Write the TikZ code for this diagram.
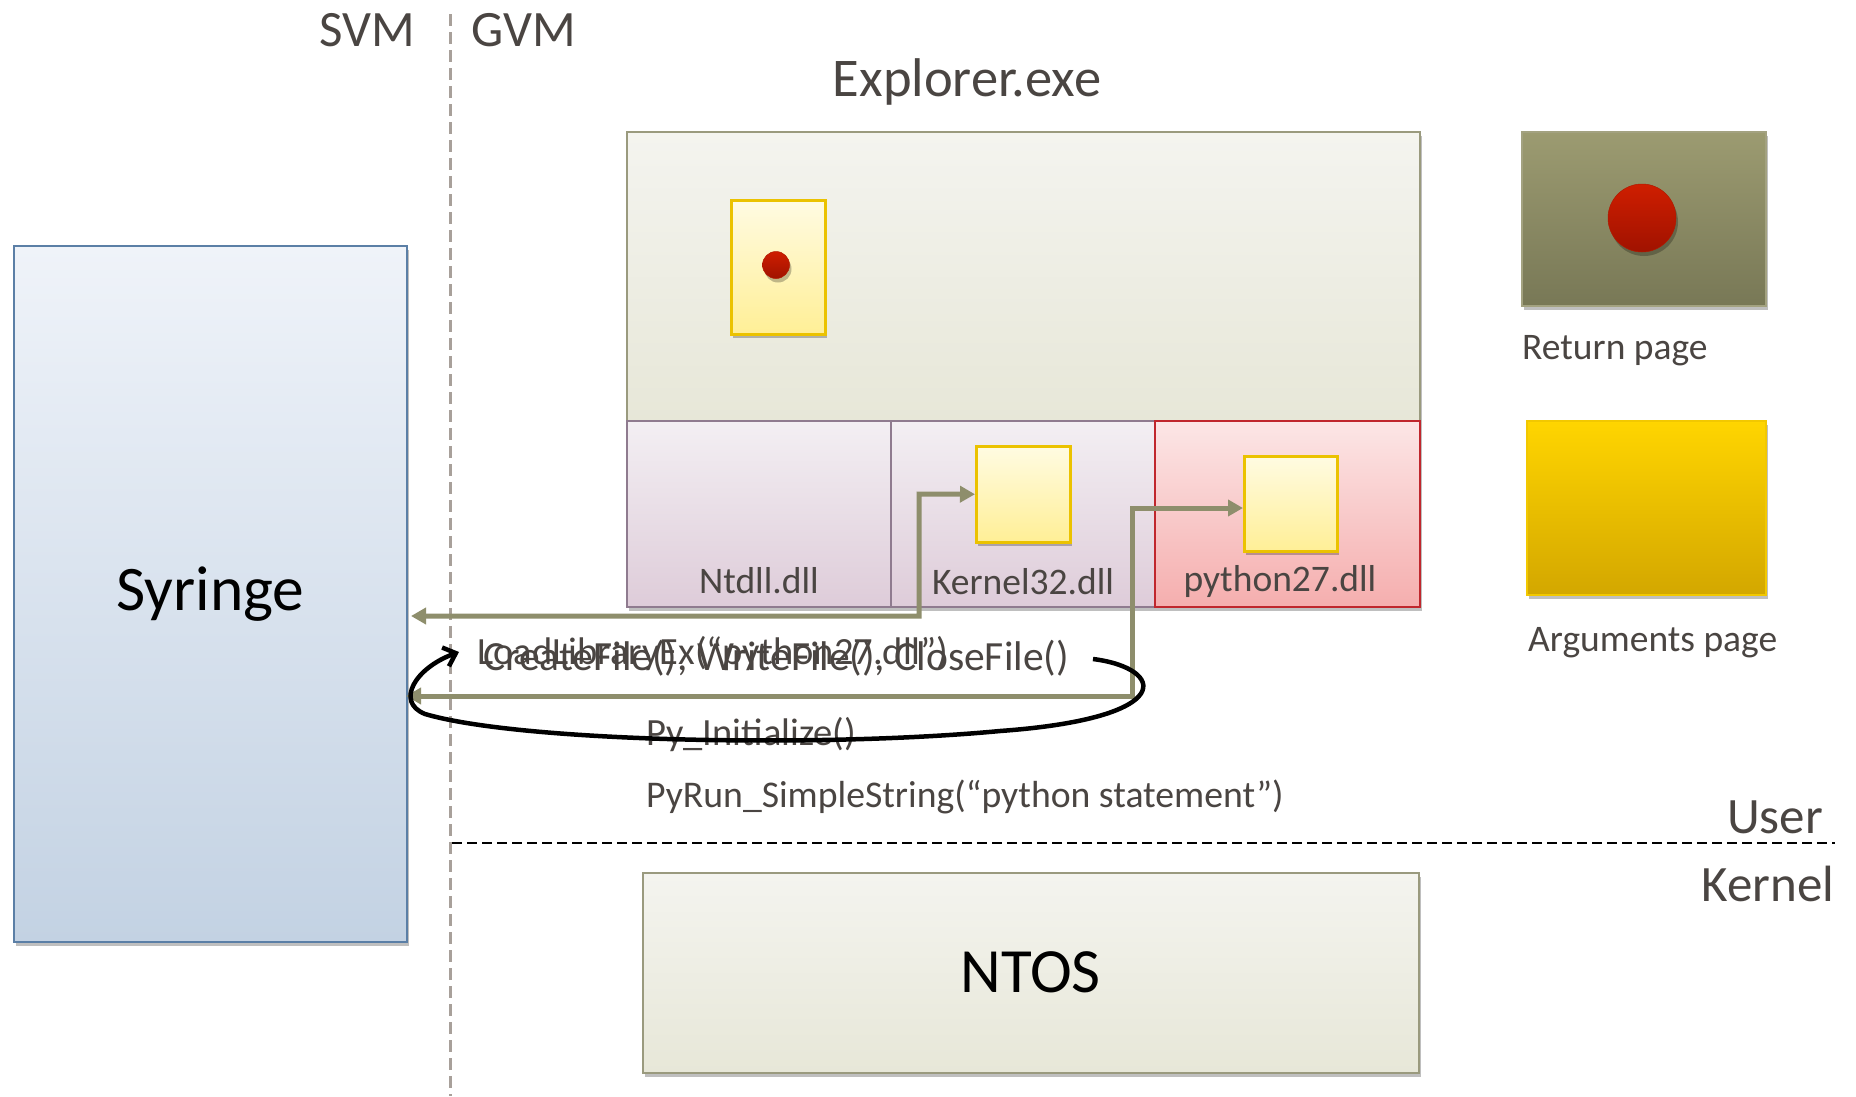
\documentclass[tikz,border=0pt]{standalone}
\usepackage{fontspec}
\setmainfont{Carlito}
\usetikzlibrary{arrows.meta,shadows}
\definecolor{txt}{HTML}{4A4542}
\definecolor{olive}{HTML}{8E8E6C}
\definecolor{vdash}{HTML}{A8A09A}
\definecolor{syrd}{HTML}{5B7FA6}
\definecolor{syrt}{HTML}{EFF3F9}
\definecolor{syrb}{HTML}{C3D2E3}
\definecolor{expd}{HTML}{9A9A7E}
\definecolor{expt}{HTML}{F4F4EF}
\definecolor{expb}{HTML}{E7E7D8}
\definecolor{dlld}{HTML}{8F7B8F}
\definecolor{dllt}{HTML}{F3EFF3}
\definecolor{dllb}{HTML}{DECCD9}
\definecolor{pyd}{HTML}{C0272D}
\definecolor{pyt}{HTML}{FCE6E6}
\definecolor{pyb}{HTML}{F5AEAE}
\definecolor{pgd}{HTML}{EBC200}
\definecolor{pgt}{HTML}{FFFBE2}
\definecolor{pgb}{HTML}{FFEF96}
\definecolor{retd}{HTML}{A3A280}
\definecolor{rett}{HTML}{9C9B71}
\definecolor{retb}{HTML}{787856}
\definecolor{argd}{HTML}{F2C800}
\definecolor{argt}{HTML}{FFD500}
\definecolor{argb}{HTML}{D3A700}
\definecolor{dotd}{HTML}{B01A00}
\definecolor{dott}{HTML}{CF1E00}
\definecolor{dotb}{HTML}{A01200}
\begin{document}
\begin{tikzpicture}[x=1pt,y=-1pt,
  shd/.style={drop shadow={shadow xshift=2pt,shadow yshift=-4pt,opacity=0.25,fill=black}},
  boxbase/.style={draw,line width=1.5pt,anchor=north west,inner sep=0pt,shd},
  syrbox/.style={boxbase,draw=syrd,top color=syrt,bottom color=syrb},
  expbox/.style={boxbase,draw=expd,top color=expt,bottom color=expb},
  dllbox/.style={boxbase,draw=dlld,top color=dllt,bottom color=dllb},
  pybox/.style={boxbase,draw=pyd,top color=pyt,bottom color=pyb},
  pagebox/.style={boxbase,line width=2.5pt,draw=pgd,top color=pgt,bottom color=pgb},
  retbox/.style={boxbase,draw=retd,top color=rett,bottom color=retb},
  argbox/.style={boxbase,draw=argd,top color=argt,bottom color=argb},
  reddot/.style={circle,draw=dotd,line width=0.5pt,inner sep=0pt,top color=dott,bottom color=dotb,shd},
  lbl/.style={text=txt,inner sep=0pt,font=\fontsize{37.5}{42}\selectfont},
  fn/.style={text=txt,inner sep=0pt,font=\fontsize{38.5}{42}\selectfont},
  big/.style={text=txt,inner sep=0pt,font=\fontsize{51}{56}\selectfont},
  oarrow/.style={draw=olive,line width=5pt,{Triangle[length=15pt,width=16pt]}-{Triangle[length=15pt,width=16pt]}},
  loopar/.style={draw=black,line width=4.5pt,-{Straight Barb[length=11pt,width=20pt,line width=4.5pt]}}]
\useasboundingbox (0,0) rectangle (1856,1096);
\fill[white] (0,0) rectangle (1856,1096);

% separators
\draw[draw=vdash,line width=3pt,dash pattern=on 12pt off 6pt] (450,14) -- (450,1096);
\draw[black,line width=2pt,dash pattern=on 10pt off 5pt] (452,843) -- (1835,843);

\node[big] (svm) at (367,30) {SVM};
\node[big] (gvm) at (524,30) {GVM};
\node[big] (user) at (1775,817) {User};
\node[big] (kern) at (1768,884) {Kernel};

% Syringe
\node[syrbox,minimum width=393pt,minimum height=696pt,font=\fontsize{63.5}{70}\selectfont] (syr) at (13,245) {Syringe};

% Explorer
\node[big,font=\fontsize{54.5}{60}\selectfont] (expl) at (967,82) {Explorer.exe};
\node[expbox,minimum width=793pt,minimum height=289pt] (exptop) at (626,131) {};
\node[dllbox,minimum width=264pt,minimum height=186pt] (ntdll) at (626,420) {};
\node[dllbox,minimum width=264pt,minimum height=186pt] (k32) at (890,420) {};
\node[pybox,minimum width=265pt,minimum height=186pt] (py27) at (1154,420) {};
\node[lbl,anchor=base] (ntl) at (759,593) {Ntdll.dll};
\node[lbl,anchor=base] (k3l) at (1023,594) {Kernel32.dll};
\node[lbl,anchor=base] (pyl) at (1280,591) {python27.dll};

% pages
\node[pagebox,minimum width=94pt,minimum height=134pt] (rpg) at (730,199) {};
\node[reddot,minimum size=27pt] (rdot) at (776,265) {};
\node[pagebox,minimum width=94pt,minimum height=96pt] (kin) at (975,445) {};
\node[pagebox,minimum width=93pt,minimum height=95pt] (pin) at (1243,455) {};

% legend
\node[retbox,minimum width=244pt,minimum height=174pt] (leg1) at (1521,131) {};
\node[reddot,minimum size=68pt] (ldot) at (1642,218) {};
\node[lbl,anchor=west] (rl) at (1522,351) {Return page};
\node[argbox,minimum width=239pt,minimum height=174pt] (leg2) at (1526,420) {};
\node[lbl,anchor=west] (al) at (1528,643) {Arguments page};

% NTOS
\node[expbox,minimum width=776pt,minimum height=200pt,font=\fontsize{63}{68}\selectfont] (ntos) at (642,872) {NTOS};

% function texts
\node[fn,anchor=west] (t1) at (477,654) {LoadLibraryEx(“python27.dll”)};
\node[fn,anchor=west,font=\fontsize{41.5}{46}\selectfont] (t2) at (483,658) {CreateFile(), WriteFile(), CloseFile()};
\node[fn,anchor=west] (t3) at (646,735) {Py\_Initialize()};
\node[fn,anchor=west,font=\fontsize{37.7}{42}\selectfont] (t4) at (646,797) {PyRun\_SimpleString(“python statement”)};

% connectors
\coordinate (e1) at (411,616);
\coordinate (e2) at (406,696);
\draw[oarrow] (e1) -| (919,494) -- (kin.west);
\draw[oarrow] (e2) -| (1132,508) -- (1132,508 -| pin.west);

\coordinate (ls) at (1093,659);
\coordinate (le) at (459,652);
\draw[loopar] (ls) .. controls (1165,668) and (1180,718) .. (1000,731)
  .. controls (820,748) and (520,742) .. (425,714)
  .. controls (395,702) and (415,668) .. (le);
\end{tikzpicture}
\end{document}
